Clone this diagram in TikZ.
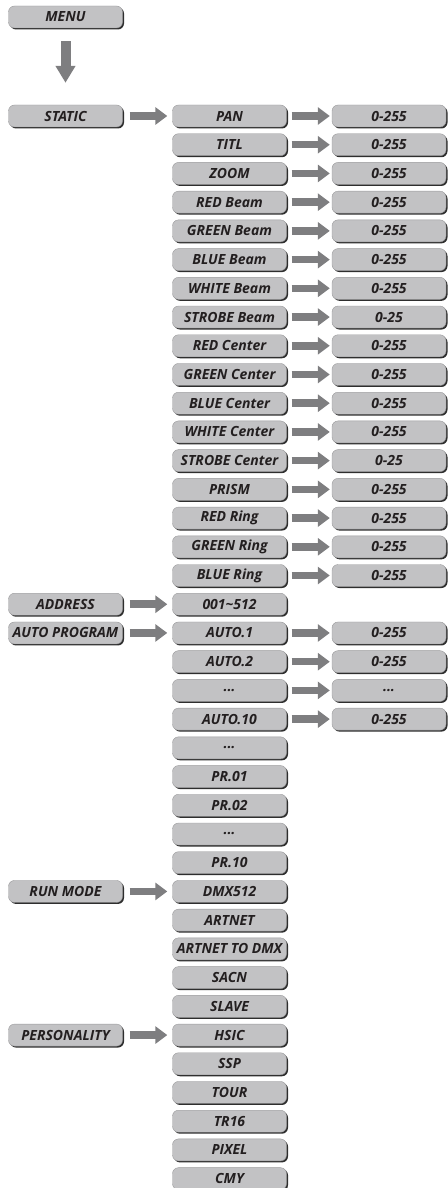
\documentclass[tikz,border=0pt]{standalone}
\usepackage{fontspec}
\setmainfont{Open Sans}
\usetikzlibrary{arrows.meta,shadows}
\definecolor{boxgray}{HTML}{C2C2C4}
\definecolor{boxedge}{HTML}{9A9A9C}
\definecolor{shadowc}{HTML}{2E2E2E}
\definecolor{arrowgray}{HTML}{7E7E80}
\definecolor{textc}{HTML}{231F20}
\newcommand\mydots{...}
\tikzset{
  box/.style={fill=boxgray, draw=boxedge, line width=0.4pt, rounded corners=6pt,
    minimum width=114pt, minimum height=22pt, inner sep=0pt,
    text=textc, font=\fontsize{14}{14}\selectfont\bfseries\itshape,
    drop shadow={shadow xshift=1.5pt, shadow yshift=-1.5pt, fill=shadowc, opacity=1}},
  fat/.style={draw=arrowgray, line width=7.5pt, -{Triangle[length=12pt,width=17pt]}},
  fatdown/.style={draw=arrowgray, line width=10pt, -{Triangle[length=17pt,width=19pt]}},
}
\begin{document}
\begin{tikzpicture}[x=1pt,y=-1pt]
\useasboundingbox (0,0) rectangle (447,1188);
% column 1
\node[box] (menu) at (65.5,17) {MENU};
\node[box] (static) at (65.5,116) {STATIC};
\node[box] (address) at (65.5,{116+17*28.72}) {ADDRESS};
\node[box] (autoprog) at (65.5,{116+18*28.72}) {AUTO PROGRAM};
\node[box] (runmode) at (65.5,{116+27*28.72}) {RUN MODE};
\node[box] (personality) at (65.5,{116+32*28.72}) {PERSONALITY};
\draw[fatdown, shorten <=13pt, shorten >=22pt] (menu) -- (static);
% column 2
\foreach \i/\t in {0/PAN,1/TITL,2/ZOOM,3/RED Beam,4/GREEN Beam,5/BLUE Beam,6/WHITE Beam,
  7/STROBE Beam,8/RED Center,9/GREEN Center,10/BLUE Center,11/WHITE Center,12/STROBE Center,
  13/PRISM,14/RED Ring,15/GREEN Ring,16/BLUE Ring,17/001\textasciitilde512,18/AUTO.1,19/AUTO.2,
  20/\mydots,21/AUTO.10,22/\mydots,23/PR.01,24/PR.02,25/\mydots,26/PR.10,27/DMX512,28/ARTNET,
  29/ARTNET TO DMX,30/SACN,31/SLAVE,32/HSIC,33/SSP,34/TOUR,35/TR16,36/PIXEL,37/CMY}
  \node[box] (b\i) at (229.5,{116+\i*28.72}) {\t};
% column 3
\foreach \i/\v in {0/0-255,1/0-255,2/0-255,3/0-255,4/0-255,5/0-255,6/0-255,7/0-25,8/0-255,
  9/0-255,10/0-255,11/0-255,12/0-25,13/0-255,14/0-255,15/0-255,16/0-255,18/0-255,19/0-255,
  20/\mydots,21/0-255}
{
  \node[box] (v\i) at (389,{116+\i*28.72}) {\v};
  \draw[fat, shorten <=5pt, shorten >=2pt] (b\i) -- (v\i);
}
% arrows from column 1
\draw[fat, shorten <=7pt, shorten >=5pt] (static) -- (b0);
\draw[fat, shorten <=7pt, shorten >=5pt] (address) -- (b17);
\draw[fat, shorten <=7pt, shorten >=5pt] (autoprog) -- (b18);
\draw[fat, shorten <=7pt, shorten >=5pt] (runmode) -- (b27);
\draw[fat, shorten <=7pt, shorten >=5pt] (personality) -- (b32);
\end{tikzpicture}
\end{document}
